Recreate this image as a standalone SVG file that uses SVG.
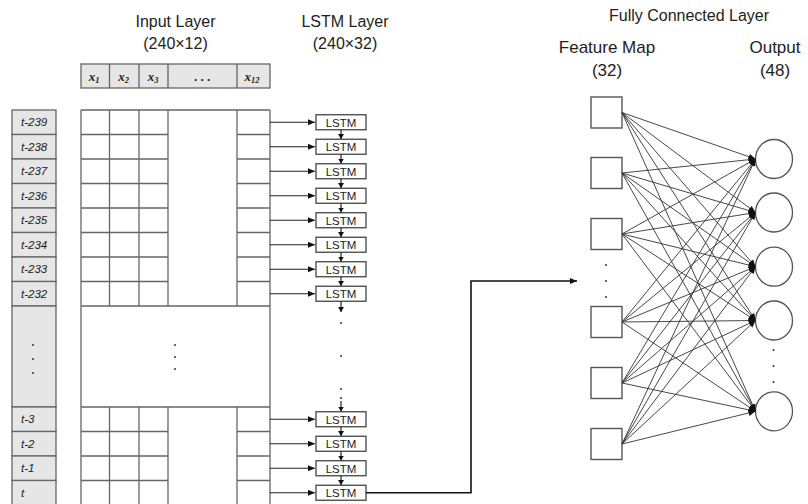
<svg xmlns="http://www.w3.org/2000/svg" width="808" height="504" viewBox="0 0 808 504">
<defs>
<style>
.grid{stroke:#666;stroke-width:1.3;fill:none}
.lbl rect{fill:#e6e6e6;stroke:#666;stroke-width:1.3}
.lbl text{font-family:"Liberation Sans",Arial,sans-serif;font-style:italic;font-size:11.5px;fill:#222}
.hdr rect{fill:#e6e6e6;stroke:#666;stroke-width:1.3}
.hx{font-family:"Liberation Serif","Times New Roman",serif;font-style:italic;font-weight:bold;font-size:13px;fill:#222;text-anchor:middle}
.title{font-family:"Liberation Sans",Arial,sans-serif;font-size:16px;fill:#222;text-anchor:middle}
.lstm rect{fill:#fff;stroke:#444;stroke-width:1.3}
.lstm text{font-family:"Liberation Sans",Arial,sans-serif;font-size:11.5px;fill:#222;text-anchor:middle}
.conn{stroke:#222;stroke-width:1.2;fill:none}
.out-conn{stroke:#111;stroke-width:1.6;fill:none}
.fc{stroke:#333;stroke-width:0.9;fill:none}
.fm{fill:#fff;stroke:#555;stroke-width:1.4}
.out{fill:#fff;stroke:#555;stroke-width:1.3}
.dot{fill:#333}
</style>
<marker id="ah" markerWidth="8" markerHeight="8" refX="7" refY="3" orient="auto" markerUnits="userSpaceOnUse"><path d="M0,0 L7,3 L0,6 z" fill="#111"/></marker>
<marker id="ahs" markerWidth="8" markerHeight="8" refX="5" refY="3" orient="auto" markerUnits="userSpaceOnUse"><path d="M0,0 L5,3 L0,6 z" fill="#111"/></marker>
</defs>
<rect width="808" height="504" fill="#fff"/>

<g id="titles">
<text class="title" x="175.5" y="27">Input Layer</text>
<text class="title" x="175.5" y="49">(240×12)</text>
<text class="title" x="345" y="27">LSTM Layer</text>
<text class="title" x="345" y="49">(240×32)</text>
<text class="title" x="689" y="21">Fully Connected Layer</text>
<text class="title" x="607" y="53" style="font-size:17px">Feature Map</text>
<text class="title" x="607" y="76" style="font-size:17px">(32)</text>
<text class="title" x="775" y="53" style="font-size:17px">Output</text>
<text class="title" x="775" y="76" style="font-size:17px">(48)</text>
</g>

<g id="input-header" class="hdr">
<rect x="81" y="64" width="189" height="24"/>
<path class="grid" d="M109.5,64V88M139,64V88M168,64V88M237,64V88"/>
<text class="hx" x="94" y="81">x<tspan font-size="8.5" dy="2">1</tspan></text>
<text class="hx" x="123.5" y="81">x<tspan font-size="8.5" dy="2">2</tspan></text>
<text class="hx" x="153" y="81">x<tspan font-size="8.5" dy="2">3</tspan></text>
<text class="hx" x="202.5" y="81">. . .</text>
<text class="hx" x="252" y="81">x<tspan font-size="8.5" dy="2">12</tspan></text>
</g>

<g id="time-labels" class="lbl">
<rect x="12" y="110" width="44" height="24.5"/>
<rect x="12" y="134.5" width="44" height="24.5"/>
<rect x="12" y="159" width="44" height="24.5"/>
<rect x="12" y="183.5" width="44" height="24.5"/>
<rect x="12" y="208" width="44" height="24.5"/>
<rect x="12" y="232.5" width="44" height="24.5"/>
<rect x="12" y="257" width="44" height="24.5"/>
<rect x="12" y="281.5" width="44" height="24.5"/>
<rect x="12" y="306" width="44" height="101"/>
<rect x="12" y="407" width="44" height="24.5"/>
<rect x="12" y="431.5" width="44" height="24.5"/>
<rect x="12" y="456" width="44" height="24.5"/>
<rect x="12" y="480.5" width="44" height="26"/>
<text x="21" y="126">t-239</text>
<text x="21" y="150.5">t-238</text>
<text x="21" y="175">t-237</text>
<text x="21" y="199.5">t-236</text>
<text x="21" y="224">t-235</text>
<text x="21" y="248.5">t-234</text>
<text x="21" y="273">t-233</text>
<text x="21" y="297.5">t-232</text>
<text x="21" y="423">t-3</text>
<text x="21" y="447.5">t-2</text>
<text x="21" y="472">t-1</text>
<text x="21" y="496.5">t</text>
<circle class="dot" cx="33" cy="345" r="1"/>
<circle class="dot" cx="33" cy="359" r="1"/>
<circle class="dot" cx="33" cy="373" r="1"/>
</g>

<g id="input-grid">
<path class="grid" d="M81,110V506M270,110V506M81,110H270M81,306H270M81,407H270
M109.5,110V306M139,110V306M168,110V306M237,110V306
M109.5,407V506M139,407V506M168,407V506M237,407V506
M81,134.5H168M237,134.5H270M81,159H168M237,159H270M81,183.5H168M237,183.5H270M81,208H168M237,208H270
M81,232.5H168M237,232.5H270M81,257H168M237,257H270M81,281.5H168M237,281.5H270
M81,431.5H168M237,431.5H270M81,456H168M237,456H270M81,480.5H168M237,480.5H270"/>
<circle class="dot" cx="175" cy="345" r="1"/>
<circle class="dot" cx="175" cy="357" r="1"/>
<circle class="dot" cx="175" cy="369" r="1"/>
</g>

<g id="lstm-layer" class="lstm">
<rect x="316" y="114.75" width="50" height="15"/><text x="341" y="126.5">LSTM</text>
<rect x="316" y="139.25" width="50" height="15"/><text x="341" y="151">LSTM</text>
<rect x="316" y="163.75" width="50" height="15"/><text x="341" y="175.5">LSTM</text>
<rect x="316" y="188.25" width="50" height="15"/><text x="341" y="200">LSTM</text>
<rect x="316" y="212.75" width="50" height="15"/><text x="341" y="224.5">LSTM</text>
<rect x="316" y="237.25" width="50" height="15"/><text x="341" y="249">LSTM</text>
<rect x="316" y="261.75" width="50" height="15"/><text x="341" y="273.5">LSTM</text>
<rect x="316" y="286.25" width="50" height="15"/><text x="341" y="298">LSTM</text>
<rect x="316" y="411.75" width="50" height="15"/><text x="341" y="423.5">LSTM</text>
<rect x="316" y="436.25" width="50" height="15"/><text x="341" y="448">LSTM</text>
<rect x="316" y="460.75" width="50" height="15"/><text x="341" y="472.5">LSTM</text>
<rect x="316" y="485.25" width="50" height="15"/><text x="341" y="497">LSTM</text>
<circle class="dot" cx="341" cy="323" r="1"/>
<circle class="dot" cx="341" cy="356" r="1"/>
<circle class="dot" cx="341" cy="389" r="1"/>
<circle class="dot" cx="341" cy="398" r="1"/>
</g>

<g id="fc-feature-map">
<rect class="fm" x="591" y="97" width="31" height="31"/>
<rect class="fm" x="591" y="157.5" width="31" height="31"/>
<rect class="fm" x="591" y="218.5" width="31" height="31"/>
<rect class="fm" x="591" y="306.5" width="31" height="31"/>
<rect class="fm" x="591" y="367.5" width="31" height="31"/>
<rect class="fm" x="591" y="428.5" width="31" height="31"/>
<circle class="dot" cx="606" cy="265" r="1"/>
<circle class="dot" cx="606" cy="281" r="1"/>
<circle class="dot" cx="606" cy="297" r="1"/>
</g>

<g id="fc-output">
<ellipse class="out" cx="774" cy="159" rx="18.5" ry="19.5"/>
<ellipse class="out" cx="774" cy="212.5" rx="18.5" ry="19.5"/>
<ellipse class="out" cx="774" cy="266.7" rx="18.5" ry="19.5"/>
<ellipse class="out" cx="774" cy="320.5" rx="18.5" ry="19.5"/>
<ellipse class="out" cx="774" cy="411.3" rx="18.5" ry="19.5"/>
<circle class="dot" cx="773.5" cy="350" r="1"/>
<circle class="dot" cx="773.5" cy="366" r="1"/>
<circle class="dot" cx="773.5" cy="382" r="1"/>
</g>

<g id="connectors">
<g class="conn" marker-end="url(#ah)">
<path d="M270,122.25H315"/><path d="M270,146.75H315"/><path d="M270,171.25H315"/><path d="M270,195.75H315"/>
<path d="M270,220.25H315"/><path d="M270,244.75H315"/><path d="M270,269.25H315"/><path d="M270,293.75H315"/>
<path d="M270,419.25H315"/><path d="M270,443.75H315"/><path d="M270,468.25H315"/><path d="M270,492.75H315"/>
</g>
<path class="out-conn" marker-end="url(#ah)" d="M366,492.75H471V281H577"/>
<g class="conn" marker-end="url(#ahs)">
<path d="M341,129.75V139"/><path d="M341,154.25V163.5"/><path d="M341,178.75V188"/><path d="M341,203.25V212.5"/>
<path d="M341,227.75V237"/><path d="M341,252.25V261.5"/><path d="M341,276.75V286"/><path d="M341,301.25V312"/>
<path d="M341,401V411.5"/><path d="M341,426.75V436"/><path d="M341,451.25V460.5"/><path d="M341,475.75V485"/>
</g>
<g class="fc" marker-end="url(#ah)">
<path d="M622,112.5L755.5,159"/><path d="M622,112.5L755.5,212.5"/><path d="M622,112.5L755.5,266.7"/><path d="M622,112.5L755.5,320.5"/><path d="M622,112.5L755.5,411.3"/>
<path d="M622,173L755.5,159"/><path d="M622,173L755.5,212.5"/><path d="M622,173L755.5,266.7"/><path d="M622,173L755.5,320.5"/><path d="M622,173L755.5,411.3"/>
<path d="M622,234L755.5,159"/><path d="M622,234L755.5,212.5"/><path d="M622,234L755.5,266.7"/><path d="M622,234L755.5,320.5"/><path d="M622,234L755.5,411.3"/>
<path d="M622,322L755.5,159"/><path d="M622,322L755.5,212.5"/><path d="M622,322L755.5,266.7"/><path d="M622,322L755.5,320.5"/><path d="M622,322L755.5,411.3"/>
<path d="M622,383L755.5,159"/><path d="M622,383L755.5,212.5"/><path d="M622,383L755.5,266.7"/><path d="M622,383L755.5,320.5"/><path d="M622,383L755.5,411.3"/>
<path d="M622,444L755.5,159"/><path d="M622,444L755.5,212.5"/><path d="M622,444L755.5,266.7"/><path d="M622,444L755.5,320.5"/><path d="M622,444L755.5,411.3"/>
</g>
</g>
</svg>
